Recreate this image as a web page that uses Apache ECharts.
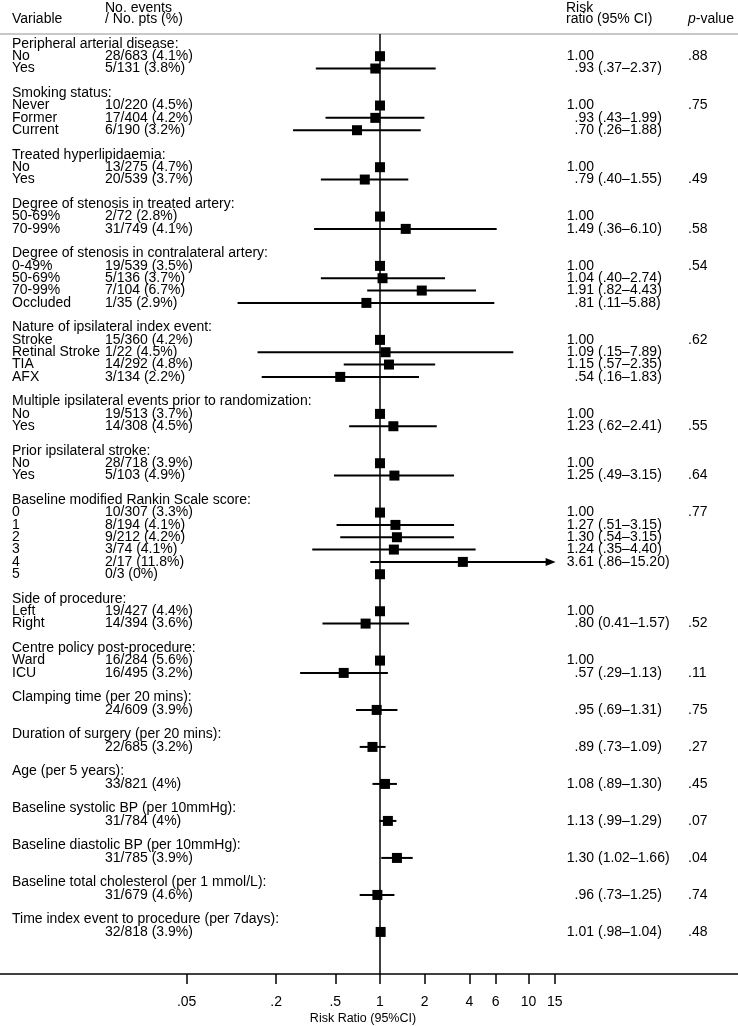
<!DOCTYPE html>
<html><head><meta charset="utf-8">
<script src="https://cdn.jsdelivr.net/npm/echarts@6/dist/echarts.min.js"></script>
<style>html,body{margin:0;padding:0;background:#fff}#c{width:738px;height:1026px}</style>
</head><body><div id="c"></div>
<script>
const groupTitles = [
  'Peripheral arterial disease:',
  'Smoking status:',
  'Treated hyperlipidaemia:',
  'Degree of stenosis in treated artery:',
  'Degree of stenosis in contralateral artery:',
  'Nature of ipsilateral index event:',
  'Multiple ipsilateral events prior to randomization:',
  'Prior ipsilateral stroke:',
  'Baseline modified Rankin Scale score:',
  'Side of procedure:',
  'Centre policy post-procedure:',
  'Clamping time (per 20 mins):',
  'Duration of surgery (per 20 mins):',
  'Age (per 5 years):',
  'Baseline systolic BP (per 10mmHg):',
  'Baseline diastolic BP (per 10mmHg):',
  'Baseline total cholesterol (per 1 mmol/L):',
  'Time index event to procedure (per 7days):'
];
const itemLabels = [
  ['No', 'Yes'],
  ['Never', 'Former', 'Current'],
  ['No', 'Yes'],
  ['50-69%', '70-99%'],
  ['0-49%', '50-69%', '70-99%', 'Occluded'],
  ['Stroke', 'Retinal Stroke', 'TIA', 'AFX'],
  ['No', 'Yes'],
  ['No', 'Yes'],
  ['0', '1', '2', '3', '4', '5'],
  ['Left', 'Right'],
  ['Ward', 'ICU'],
  [''], [''], [''], [''], [''], [''], ['']
];
const itemCounts = [
  ['28/683 (4.1%)', '5/131 (3.8%)'],
  ['10/220 (4.5%)', '17/404 (4.2%)', '6/190 (3.2%)'],
  ['13/275 (4.7%)', '20/539 (3.7%)'],
  ['2/72 (2.8%)', '31/749 (4.1%)'],
  ['19/539 (3.5%)', '5/136 (3.7%)', '7/104 (6.7%)', '1/35 (2.9%)'],
  ['15/360 (4.2%)', '1/22 (4.5%)', '14/292 (4.8%)', '3/134 (2.2%)'],
  ['19/513 (3.7%)', '14/308 (4.5%)'],
  ['28/718 (3.9%)', '5/103 (4.9%)'],
  ['10/307 (3.3%)', '8/194 (4.1%)', '9/212 (4.2%)', '3/74 (4.1%)', '2/17 (11.8%)', '0/3 (0%)'],
  ['19/427 (4.4%)', '14/394 (3.6%)'],
  ['16/284 (5.6%)', '16/495 (3.2%)'],
  ['24/609 (3.9%)'], ['22/685 (3.2%)'], ['33/821 (4%)'], ['31/784 (4%)'],
  ['31/785 (3.9%)'], ['31/679 (4.6%)'], ['32/818 (3.9%)']
];
const riskRatios = [
  [1.00, 0.93],
  [1.00, 0.93, 0.70],
  [1.00, 0.79],
  [1.00, 1.49],
  [1.00, 1.04, 1.91, 0.81],
  [1.00, 1.09, 1.15, 0.54],
  [1.00, 1.23],
  [1.00, 1.25],
  [1.00, 1.27, 1.30, 1.24, 3.61, 1.00],
  [1.00, 0.80],
  [1.00, 0.57],
  [0.95], [0.89], [1.08], [1.13], [1.30], [0.96], [1.01]
];
const ciLower = [
  [null, 0.37],
  [null, 0.43, 0.26],
  [null, 0.40],
  [null, 0.36],
  [null, 0.40, 0.82, 0.11],
  [null, 0.15, 0.57, 0.16],
  [null, 0.62],
  [null, 0.49],
  [null, 0.51, 0.54, 0.35, 0.86, null],
  [null, 0.41],
  [null, 0.29],
  [0.69], [0.73], [0.89], [0.99], [1.02], [0.73], [0.98]
];
const ciUpper = [
  [null, 2.37],
  [null, 1.99, 1.88],
  [null, 1.55],
  [null, 6.10],
  [null, 2.74, 4.43, 5.88],
  [null, 7.89, 2.35, 1.83],
  [null, 2.41],
  [null, 3.15],
  [null, 3.15, 3.15, 4.40, 15.20, null],
  [null, 1.57],
  [null, 1.13],
  [1.31], [1.09], [1.30], [1.29], [1.66], [1.25], [1.04]
];
const rrLabels = [
  ['1.00', '.93 (.37\u20132.37)'],
  ['1.00', '.93 (.43\u20131.99)', '.70 (.26\u20131.88)'],
  ['1.00', '.79 (.40\u20131.55)'],
  ['1.00', '1.49 (.36\u20136.10)'],
  ['1.00', '1.04 (.40\u20132.74)', '1.91 (.82\u20134.43)', '.81 (.11\u20135.88)'],
  ['1.00', '1.09 (.15\u20137.89)', '1.15 (.57\u20132.35)', '.54 (.16\u20131.83)'],
  ['1.00', '1.23 (.62\u20132.41)'],
  ['1.00', '1.25 (.49\u20133.15)'],
  ['1.00', '1.27 (.51\u20133.15)', '1.30 (.54\u20133.15)', '1.24 (.35\u20134.40)', '3.61 (.86\u201315.20)', ''],
  ['1.00', '.80 (0.41\u20131.57)'],
  ['1.00', '.57 (.29\u20131.13)'],
  ['.95 (.69\u20131.31)'], ['.89 (.73\u20131.09)'], ['1.08 (.89\u20131.30)'], ['1.13 (.99\u20131.29)'],
  ['1.30 (1.02\u20131.66)'], ['.96 (.73\u20131.25)'], ['1.01 (.98\u20131.04)']
];
const pValues = ['.88', '.75', '.49', '.58', '.54', '.62', '.55', '.64', '.77', '.52', '.11',
                 '.75', '.27', '.45', '.07', '.04', '.74', '.48'];
const pValueRow = [0, 0, 1, 1, 0, 0, 1, 1, 0, 1, 1, 0, 0, 0, 0, 0, 0, 0];
const tickValues = [0.05, 0.2, 0.5, 1, 2, 4, 6, 10, 15];
const axisUpperLimit = 15;

// flatten groups into plot rows
const rows = [];
let r = 0;
groupTitles.forEach(function (t, g) {
  rows.push({ row: r++, title: t });
  itemLabels[g].forEach(function (lab, i) {
    rows.push({
      row: r++, label: lab, count: itemCounts[g][i],
      rr: riskRatios[g][i], lo: ciLower[g][i], hi: ciUpper[g][i],
      rrLabel: rrLabels[g][i], p: pValueRow[g] === i ? pValues[g] : ''
    });
  });
  r++;
});

const FONT = '14px "Liberation Sans", Arial, sans-serif';
const COL_LABEL = 12, COL_COUNT = 105, COL_RR = 594, COL_CI = 598, COL_P = 688;

const markerData = rows.filter(d => d.rr != null).map(d => [d.rr, d.row]);
const ciData = rows.filter(d => d.lo != null).map(d => [d.lo, d.hi, d.row]);
const textData = rows.map(d => [1, d.row]);

// axis range: grid spans full width, value 1 at x=380, 148.6 px per decade
const pxPerDecade = 148.6, refX = 380, W = 738;
const xMin = Math.pow(10, -refX / pxPerDecade);
const xMax = Math.pow(10, (W - refX) / pxPerDecade);

const chart = echarts.init(document.getElementById('c'), null, { renderer: 'canvas' });
chart.setOption({
  animation: false,
  backgroundColor: '#fff',
  grid: { left: 0, right: 0, top: 34, bottom: 52, containLabel: false, outerBoundsMode: 'none' },
  xAxis: [{
    type: 'log', min: xMin, max: xMax, position: 'bottom',
    axisLine: { onZero: false, lineStyle: { color: '#000', width: 1.5 } },
    axisTick: { show: true, length: 10, customValues: tickValues, lineStyle: { color: '#000', width: 1.5 } },
    axisLabel: {
      customValues: tickValues, margin: 21, color: '#000',
      fontFamily: '"Liberation Sans", Arial, sans-serif', fontSize: 14,
      formatter: function (v) { return v < 1 ? String(+v.toFixed(2)).replace(/^0/, '') : String(+v.toFixed(2)); }
    },
    splitLine: { show: false }, minorTick: { show: false },
    name: 'Risk Ratio (95%CI)', nameLocation: 'middle', nameGap: 38, nameMoveOverlap: false,
    nameTextStyle: { color: '#000', fontFamily: '"Liberation Sans", Arial, sans-serif', fontSize: 12.5, padding: [0, 12, 0, 0] }
  }, {
    type: 'value', min: 0, max: 1, position: 'top',
    axisLine: { onZero: false, lineStyle: { color: '#c8c8c8', width: 2 } },
    axisTick: { show: false }, axisLabel: { show: false }, splitLine: { show: false }
  }],
  yAxis: {
    type: 'value', inverse: true, min: -0.8, max: 75.41, show: false,
    splitLine: { show: false }
  },
  graphic: [
    { type: 'text', left: COL_LABEL, top: 12, style: { text: 'Variable', font: FONT, fill: '#000' } },
    { type: 'text', left: COL_COUNT, top: 1, style: { text: 'No. events\n/ No. pts (%)', font: FONT, fill: '#000', lineHeight: 11 } },
    { type: 'text', left: 566, top: 1, style: { text: 'Risk\nratio (95% CI)', font: FONT, fill: '#000', lineHeight: 11 } },
    { type: 'text', left: COL_P, top: 12, style: {
      text: '{i|p}-value', font: FONT, fill: '#000',
      rich: { i: { fontStyle: 'italic', fontFamily: '"Liberation Sans", Arial, sans-serif', fontSize: 14, fill: '#000' } }
    } }
  ],
  series: [
    {
      type: 'custom', name: 'ci', xAxisIndex: 0, yAxisIndex: 0, z: 3,
      data: ciData, encode: { x: [0, 1], y: 2 },
      renderItem: function (params, api) {
        const a = api.coord([api.value(0), api.value(2)]);
        const b = api.coord([api.value(1), api.value(2)]);
        const children = [];
        if (api.value(1) > axisUpperLimit) {
          children.push({ type: 'line', shape: { x1: a[0], y1: a[1], x2: b[0] - 8, y2: b[1] }, style: { stroke: '#000', lineWidth: 2 } });
          children.push({ type: 'polygon', shape: { points: [[b[0], b[1]], [b[0] - 10, b[1] - 4], [b[0] - 10, b[1] + 4]] }, style: { fill: '#000' } });
        } else {
          children.push({ type: 'line', shape: { x1: a[0], y1: a[1], x2: b[0], y2: b[1] }, style: { stroke: '#000', lineWidth: 2 } });
        }
        return { type: 'group', children: children };
      }
    },
    {
      type: 'scatter', name: 'rr', xAxisIndex: 0, yAxisIndex: 0, z: 4,
      symbol: 'rect', symbolSize: 10, itemStyle: { color: '#000', opacity: 1 },
      data: markerData, silent: true,
      markLine: {
        silent: true, symbol: ['none', 'none'], label: { show: false },
        lineStyle: { color: '#000', width: 1.5, type: 'solid' },
        data: [{ xAxis: 1 }], z: 2
      }
    },
    {
      type: 'custom', name: 'text', xAxisIndex: 0, yAxisIndex: 0, z: 5,
      data: textData, encode: { x: 0, y: 1 },
      renderItem: function (params, api) {
        const d = rows[params.dataIndex];
        const y = api.coord([1, api.value(1)])[1];
        const base = { font: FONT, fill: '#000', verticalAlign: 'middle' };
        const kids = [];
        if (d.title) {
          kids.push({ type: 'text', style: Object.assign({ text: d.title, x: COL_LABEL, y: y, align: 'left' }, base) });
        } else {
          kids.push({ type: 'text', style: Object.assign({ text: d.label, x: COL_LABEL, y: y, align: 'left' }, base) });
          kids.push({ type: 'text', style: Object.assign({ text: d.count, x: COL_COUNT, y: y, align: 'left' }, base) });
          if (d.rrLabel) {
            const sp = d.rrLabel.indexOf(' ');
            const num = sp < 0 ? d.rrLabel : d.rrLabel.slice(0, sp);
            const ci = sp < 0 ? '' : d.rrLabel.slice(sp + 1);
            kids.push({ type: 'text', style: Object.assign({ text: num, x: COL_RR, y: y, align: 'right' }, base) });
            if (ci) kids.push({ type: 'text', style: Object.assign({ text: ci, x: COL_CI, y: y, align: 'left' }, base) });
          }
          if (d.p) kids.push({ type: 'text', style: Object.assign({ text: d.p, x: COL_P, y: y, align: 'left' }, base) });
        }
        return { type: 'group', children: kids };
      }
    }
  ]
});
</script></body></html>
